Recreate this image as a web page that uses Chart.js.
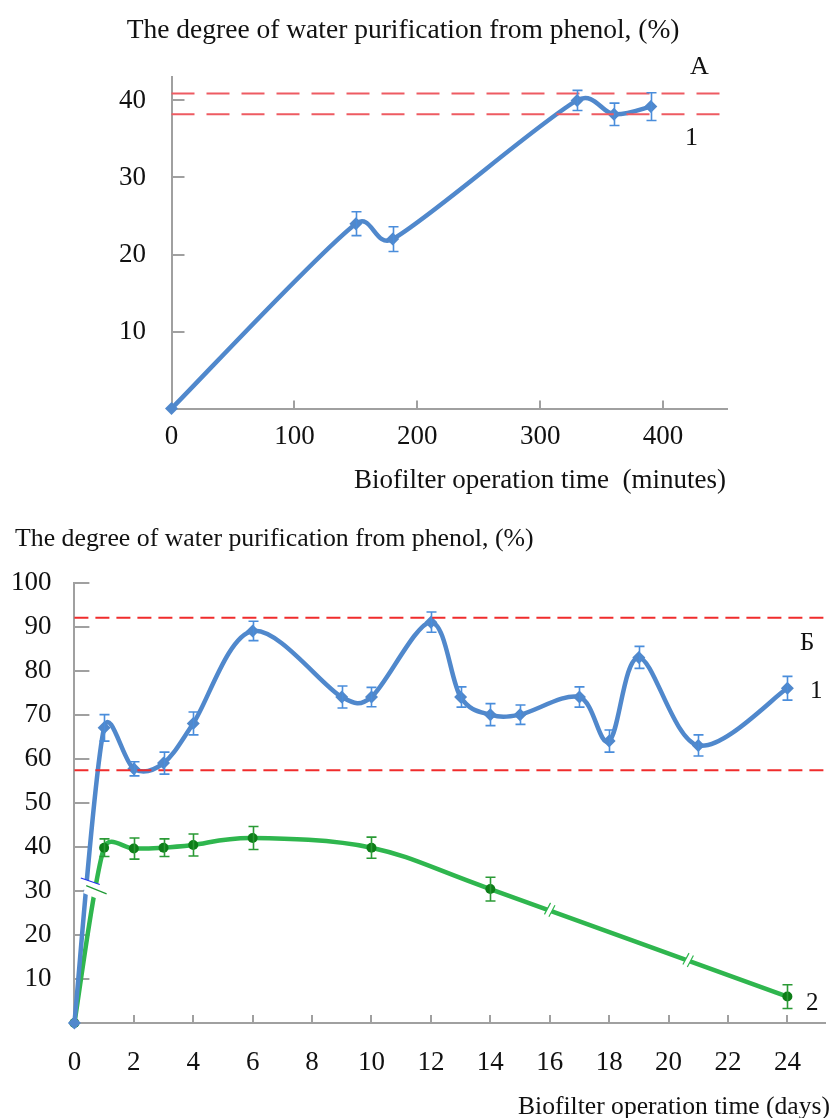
<!DOCTYPE html>
<html><head><meta charset="utf-8">
<script src="https://cdn.jsdelivr.net/npm/chart.js@4.4.1/dist/chart.umd.min.js"></script>
<style>
html,body{margin:0;padding:0;background:#fff;}
body{width:833px;height:1118px;position:relative;overflow:hidden;font-family:'Liberation Serif','Times New Roman',serif;color:#111;}
.t{position:absolute;white-space:pre;line-height:1;}
#w1{position:absolute;left:0;top:0;width:833px;height:500px;}
#w2{position:absolute;left:0;top:500px;width:833px;height:618px;}
</style></head><body>
<div id="w1"><canvas id="c1"></canvas></div>
<div id="w2"><canvas id="c2"></canvas></div>
<script>
// ---------- Data: chart A (minutes) ----------
const minutesA = [0, 150, 180, 330, 360, 390];
const purificationA = [0, 24, 22, 40, 38.2, 39.2];
const errorA = [0, 1.55, 1.6, 1.3, 1.45, 1.8];
const limitsA = [40.9, 38.2];
const xTicksA = [0, 100, 200, 300, 400];
const yTicksA = [0, 10, 20, 30, 40];
const xRangeA = [0, 452];
const yRangeA = [0, 43];

// ---------- Data: chart Б (days) ----------
const days1 = [0, 1, 2, 3, 4, 6, 9, 10, 12, 13, 14, 15, 17, 18, 19, 21, 24];
const purification1 = [0, 67, 57.7, 59, 68, 89, 74, 74, 91, 74, 70, 70, 74, 64, 83, 63, 76];
const error1 = [0, 3, 1.6, 2.5, 2.6, 2.2, 2.5, 2.2, 2.3, 2.3, 2.5, 2.2, 2.3, 2.5, 2.5, 2.4, 2.7];
const days2 = [0, 1, 2, 3, 4, 6, 10, 14, 24];
const purification2 = [0, 39.8, 39.6, 39.8, 40.4, 42, 39.8, 30.4, 6];
const error2 = [0, 2, 2.4, 2, 2.5, 2.6, 2.4, 2.7, 2.7];
const limitsB = [92, 57.4];
const xTicksB = [0, 2, 4, 6, 8, 10, 12, 14, 16, 18, 20, 22, 24];
const yTicksB = [0, 10, 20, 30, 40, 50, 60, 70, 80, 90, 100];
const xRangeB = [0, 25.25];
const yRangeB = [0, 100];
const breaks1 = [[0.48, 31.1]];
const breaks2a = [[0.69, 29.4]];
const breaks2b = [[16.0, 25.7], [20.66, 14.3]];

// ---------- Text ----------
const FONT = "'Liberation Serif','Times New Roman',serif";
const texts = [
  {s: 'The degree of water purification from phenol, (%)', x: 126.7, b: 38.3, f: 27.5},
  {s: 'Biofilter operation time  (minutes)', x: 354, b: 489, f: 27},
  {s: 'A', x: 690, b: 75, f: 26},
  {s: '1', x: 685, b: 146, f: 26},
  {s: 'The degree of water purification from phenol, (%)', x: 15, b: 547, f: 25.8},
  {s: 'Biofilter operation time (days)', x: 518, b: 1114, f: 25.6},
  {s: 'Б', x: 800, b: 650, f: 25},
  {s: '1', x: 810, b: 698, f: 25},
  {s: '2', x: 806, b: 1010, f: 25}
];
texts.forEach(t => {
  const d = document.createElement('div');
  d.className = 't';
  d.textContent = t.s;
  d.style.fontSize = t.f + 'px';
  d.style.left = t.x + 'px';
  d.style.top = (t.b - 0.8375 * t.f) + 'px';
  document.body.appendChild(d);
});

// ---------- Styles ----------
const AXIS = '#a0a0a0';
const BLUE = '#5088cc';
const BLUE_ERR = '#4a8ddb';
const GREEN = '#2fb64e';
const GREEN_MK = '#0d7d18';
const GREEN_ERR = '#2a9a35';

// Excel-style smoothed line drawn through the points positioned by the Chart.js scales
const smoothPlugin = {
  id: 'excelSmooth',
  beforeDatasetDraw(chart, args) {
    const ds = chart.data.datasets[args.index];
    if (!ds.smoothLine) return;
    const P = args.meta.data.map(e => ({x: e.x, y: e.y}));
    const ctx = chart.ctx;
    const dist = (a, b) => Math.hypot(b.x - a.x, b.y - a.y);
    ctx.save();
    ctx.strokeStyle = ds.smoothLine.color;
    ctx.lineWidth = ds.smoothLine.width;
    ctx.lineJoin = 'round';
    ctx.lineCap = 'round';
    ctx.beginPath();
    ctx.moveTo(P[0].x, P[0].y);
    for (let i = 0; i < P.length - 1; i++) {
      const p0 = P[i - 1] || P[i], p1 = P[i], p2 = P[i + 1], p3 = P[i + 2] || P[i + 1];
      const d12 = dist(p1, p2);
      let a1 = {x: (p2.x - p0.x) / 6, y: (p2.y - p0.y) / 6};
      let a2 = {x: (p3.x - p1.x) / 6, y: (p3.y - p1.y) / 6};
      const l1 = Math.hypot(a1.x, a1.y), l2 = Math.hypot(a2.x, a2.y);
      if (l1 > d12 / 2) { const k = d12 / 2 / l1; a1 = {x: a1.x * k, y: a1.y * k}; }
      if (l2 > d12 / 2) { const k = d12 / 2 / l2; a2 = {x: a2.x * k, y: a2.y * k}; }
      ctx.bezierCurveTo(p1.x + a1.x, p1.y + a1.y, p2.x - a2.x, p2.y - a2.y, p2.x, p2.y);
    }
    ctx.stroke();
    ctx.restore();
  }
};

const errPlugin = {
  id: 'errbars',
  afterDatasetsDraw(chart) {
    const ctx = chart.ctx;
    const xs = chart.scales.x, ys = chart.scales.y;
    chart.data.datasets.forEach(ds => {
      if (!ds.err) return;
      ctx.save();
      ctx.strokeStyle = ds.errColor;
      ctx.lineWidth = 1.6;
      ds.data.forEach((p, i) => {
        const e = ds.err[i];
        if (!e) return;
        const px = Math.round(xs.getPixelForValue(p.x)) + 0.5;
        const y1 = ys.getPixelForValue(p.y + e), y2 = ys.getPixelForValue(p.y - e);
        ctx.beginPath();
        ctx.moveTo(px, y1); ctx.lineTo(px, y2);
        ctx.moveTo(px - 5, y1); ctx.lineTo(px + 5, y1);
        ctx.moveTo(px - 5, y2); ctx.lineTo(px + 5, y2);
        ctx.stroke();
      });
      ctx.restore();
    });
  }
};

function breakPlugin(groups) {
  return {
    id: 'breaks',
    afterDatasetsDraw(chart) {
      const ctx = chart.ctx;
      const xs = chart.scales.x, ys = chart.scales.y;
      groups.forEach(g => {
        g.pts.forEach(p => {
          const px = xs.getPixelForValue(p[0]), py = ys.getPixelForValue(p[1]);
          ctx.save();
          ctx.translate(px, py);
          ctx.rotate(g.angle * Math.PI / 180);
          ctx.fillStyle = '#fff';
          ctx.fillRect(-g.len / 2, -g.gap / 2, g.len, g.gap);
          ctx.strokeStyle = g.color;
          ctx.lineWidth = 1.2;
          ctx.beginPath();
          ctx.moveTo(-g.len / 2, -g.gap / 2); ctx.lineTo(g.len / 2, -g.gap / 2);
          if (g.double) { ctx.moveTo(-g.len / 2, g.gap / 2); ctx.lineTo(g.len / 2, g.gap / 2); }
          ctx.stroke();
          ctx.restore();
        });
      });
    }
  };
}

const pts = (xs, ys) => xs.map((x, i) => ({x, y: ys[i]}));
const hline = (v, range, color, dash, order) => ({
  data: [{x: range[0], y: v}, {x: range[1], y: v}],
  borderColor: color, borderWidth: 2, borderDash: dash, pointRadius: 0,
  tension: 0, order, clip: false
});
const series = (xs, ys, errs, color, errColor, mkColor, style, radius, order) => ({
  data: pts(xs, ys), err: errs, errColor,
  smoothLine: {color, width: 4.5},
  showLine: false, pointStyle: style, pointRadius: radius,
  pointBackgroundColor: mkColor, pointBorderColor: mkColor, pointBorderWidth: 0,
  order, clip: false
});

function scales(xr, yr, xt, yt, fontSize, yAxisW, xAxisH, xPad, yPad, yTickLen) {
  return {
    x: {
      type: 'linear', position: 'bottom', min: xr[0], max: xr[1],
      afterBuildTicks: s => { s.ticks = xt.map(v => ({value: v})); },
      afterFit: s => { s.height = xAxisH; },
      grid: {drawOnChartArea: false, drawTicks: true, tickLength: -8, color: AXIS, lineWidth: 2},
      border: {display: true, color: AXIS, width: 2},
      ticks: {font: {family: FONT, size: fontSize}, color: '#111', padding: xPad, maxRotation: 0, autoSkip: false}
    },
    y: {
      type: 'linear', position: 'left', min: yr[0], max: yr[1],
      afterBuildTicks: s => { s.ticks = yt.map(v => ({value: v})); },
      afterFit: s => { s.width = yAxisW; },
      grid: {drawOnChartArea: false, drawTicks: true, tickLength: -yTickLen, color: AXIS, lineWidth: 2},
      border: {display: true, color: AXIS, width: 2},
      ticks: {font: {family: FONT, size: fontSize}, color: '#111', padding: yPad, autoSkip: false,
        callback: v => v === 0 ? '' : String(v)}
    }
  };
}

const common = {
  responsive: true, maintainAspectRatio: false, animation: false, events: [],
  plugins: {legend: {display: false}, tooltip: {enabled: false}, title: {display: false}}
};

// Chart A
new Chart(document.getElementById('c1'), {
  type: 'line',
  data: {datasets: [
    hline(limitsA[0], xRangeA, '#ee5b62', [23, 12], 0),
    hline(limitsA[1], xRangeA, '#ee5b62', [23, 12], 0),
    series(minutesA, purificationA, errorA, BLUE, BLUE_ERR, BLUE, 'rectRot', 6.5, 1)
  ]},
  options: Object.assign({}, common, {
    layout: {padding: {top: 77.3, right: 106, left: 0, bottom: 0}},
    scales: scales(xRangeA, yRangeA, xTicksA, yTicksA, 27, 171.5, 91.4, 20, 38.5, 13)
  }),
  plugins: [smoothPlugin, errPlugin]
});

// Chart Б
new Chart(document.getElementById('c2'), {
  type: 'line',
  data: {datasets: [
    hline(limitsB[0], xRangeB, '#f02c2c', [14, 7], 0),
    hline(limitsB[1], xRangeB, '#f02c2c', [14, 7], 0),
    series(days1, purification1, error1, BLUE, BLUE_ERR, BLUE, 'rectRot', 6.5, 1),
    series(days2, purification2, error2, GREEN, GREEN_ERR, GREEN_MK, 'circle', 5, 2)
  ]},
  options: Object.assign({}, common, {
    layout: {padding: {top: 82.5, right: 0, left: 0, bottom: 0}},
    scales: scales(xRangeB, yRangeB, xTicksB, yTicksB, 27, 74.4, 95, 31.8, 37.9, 15)
  }),
  plugins: [smoothPlugin, errPlugin, breakPlugin([
    {pts: breaks1, color: '#2233ee', angle: 19, len: 20, gap: 10, double: false},
    {pts: breaks2a, color: '#1f9a35', angle: 22, len: 22, gap: 8, double: false},
    {pts: breaks2b, color: '#2fb64e', angle: -62, len: 13, gap: 5, double: true}
  ])]
});
</script>
</body></html>
